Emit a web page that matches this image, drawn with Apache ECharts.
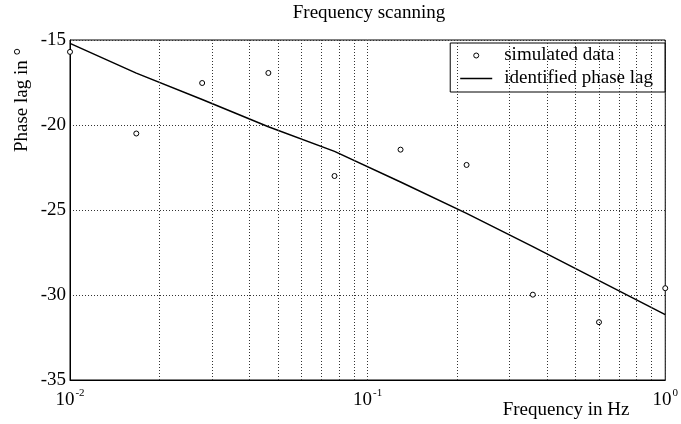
<!DOCTYPE html>
<html>
<head>
<meta charset="utf-8">
<script src="https://cdn.jsdelivr.net/npm/echarts@6/dist/echarts.min.js"></script>
<style>
  html, body { margin: 0; padding: 0; background: #fff; }
  #main { width: 681px; height: 424px; }
</style>
</head>
<body>
<div id="main"></div>
<script>
// frequencies (Hz), log spaced
const freqs = [0.01, 0.0167, 0.0278, 0.0464, 0.0774, 0.129, 0.215, 0.359, 0.599, 1.0];
// simulated phase lag (deg)
const simulated = [-15.7, -20.5, -17.53, -16.94, -23.0, -21.45, -22.35, -29.98, -31.6, -29.6];
// identified phase lag (deg)
const identified = [-15.2, -16.95, -18.5, -20.1, -21.55, -23.35, -25.2, -27.15, -29.15, -31.15];
// minor log grid lines
const minorGrid = [0.02, 0.03, 0.04, 0.05, 0.06, 0.07, 0.08, 0.09, 0.2, 0.3, 0.4, 0.5, 0.6, 0.7, 0.8, 0.9];

const FONT = '"Liberation Serif", "Times New Roman", serif';
const gridDash = { color: '#333', width: 1, type: [1, 2] };

const chart = echarts.init(document.getElementById('main'));

const option = {
  animation: false,
  backgroundColor: '#fff',
  textStyle: { fontFamily: FONT, color: '#000' },
  title: {
    text: 'Frequency scanning',
    left: 369,
    textAlign: 'center',
    top: 4,
    padding: 0,
    textStyle: { fontFamily: FONT, fontSize: 19, fontWeight: 'normal', color: '#000' }
  },
  grid: {
    left: 70, right: 12, top: 40, bottom: 44,
    show: true, borderColor: '#000', borderWidth: 1, backgroundColor: 'transparent'
  },
  legend: {
    right: 16,
    top: 43,
    orient: 'vertical',
    backgroundColor: '#fff',
    borderColor: '#000',
    borderWidth: 1,
    padding: [2, 12, 3, 10],
    itemWidth: 32,
    itemHeight: 5,
    itemGap: 2,
    textStyle: { fontFamily: FONT, fontSize: 19, color: '#000', lineHeight: 21, padding: [0, 0, 0, 7] },
    data: [
      { name: 'simulated data', icon: 'circle', itemStyle: { color: '#fff', borderColor: '#000', borderWidth: 1 } },
      { name: 'identified phase lag', icon: 'path://M0,0L32,0L32,1.3L0,1.3Z', itemStyle: { color: '#000', borderWidth: 0 } }
    ]
  },
  xAxis: {
    type: 'log',
    logBase: 10,
    min: 0.01,
    max: 1,
    axisLine: { show: true, lineStyle: { color: '#000' } },
    axisTick: { show: false },
    splitLine: { show: true, lineStyle: gridDash },
    axisLabel: {
      margin: 8,
      showMinLabel: true,
      showMaxLabel: true,
      formatter: v => '{b|10}{s|' + Math.round(Math.log10(v)) + '}',
      rich: {
        b: { fontFamily: FONT, fontSize: 19, color: '#000', lineHeight: 22, verticalAlign: 'bottom' },
        s: { fontFamily: FONT, fontSize: 11, color: '#000', lineHeight: 22, verticalAlign: 'top', padding: [0, 0, 0, 1] }
      }
    }
  },
  yAxis: {
    type: 'value',
    min: -35,
    max: -15,
    interval: 5,
    axisLine: { show: true, lineStyle: { color: '#000' } },
    axisTick: { show: false },
    splitLine: { show: true, lineStyle: gridDash },
    axisLabel: { fontFamily: FONT, fontSize: 19, color: '#000', margin: 4 }
  },
  graphic: [
    {
      type: 'text',
      x: 22, y: 100,
      rotation: Math.PI / 2,
      style: {
        text: 'Phase lag in °',
        font: '19px ' + FONT,
        fill: '#000',
        align: 'center',
        verticalAlign: 'middle'
      }
    },
    {
      type: 'text',
      x: 566, y: 410,
      style: {
        text: 'Frequency in Hz',
        font: '19px ' + FONT,
        fill: '#000',
        align: 'center',
        verticalAlign: 'middle'
      }
    }
  ],
  series: [
    {
      name: 'simulated data',
      type: 'scatter',
      symbol: 'circle',
      symbolSize: 5,
      itemStyle: { color: '#fff', borderColor: '#000', borderWidth: 1, opacity: 1 },
      data: freqs.map((f, i) => [f, simulated[i]]),
      markLine: {
        silent: true,
        symbol: 'none',
        label: { show: false },
        lineStyle: gridDash,
        data: minorGrid.map(f => ({ xAxis: f }))
      },
      z: 3
    },
    {
      name: 'identified phase lag',
      type: 'line',
      symbol: 'none',
      showSymbol: false,
      lineStyle: { color: '#000', width: 1.5 },
      itemStyle: { color: '#000' },
      data: freqs.map((f, i) => [f, identified[i]]),
      z: 2
    }
  ]
};

chart.setOption(option);
</script>
</body>
</html>
